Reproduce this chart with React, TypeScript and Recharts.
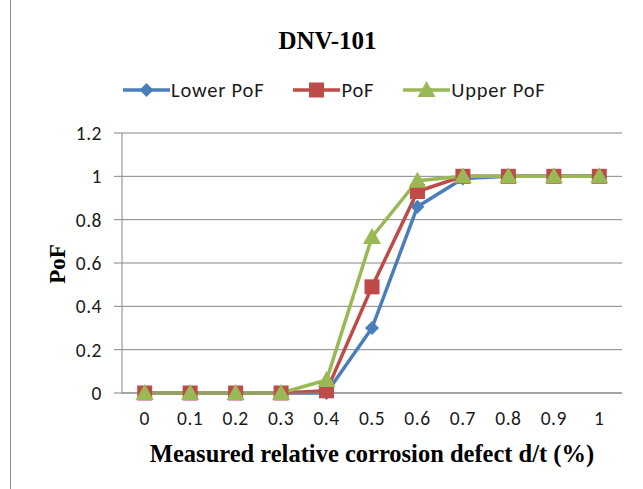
import { LineChart, Line, XAxis, YAxis, CartesianGrid } from 'recharts'

const CATEGORIES = ['0', '0.1', '0.2', '0.3', '0.4', '0.5', '0.6', '0.7', '0.8', '0.9', '1']
const LOWER_POF = [0, 0, 0, 0, 0, 0.3, 0.86, 0.99, 1, 1, 1]
const POF = [0, 0, 0, 0, 0.01, 0.49, 0.93, 1, 1, 1, 1]
const UPPER_POF = [0, 0, 0, 0, 0.06, 0.72, 0.98, 1, 1, 1, 1]
const Y_TICKS = [0, 0.2, 0.4, 0.6, 0.8, 1, 1.2]

const SERIES = [
  { key: 'lower', name: 'Lower PoF', color: '#4A7EBB', shape: 'diamond' },
  { key: 'pof', name: 'PoF', color: '#BE4B48', shape: 'square' },
  { key: 'upper', name: 'Upper PoF', color: '#98B954', shape: 'triangle' },
]

const data = CATEGORIES.map((c, i) => ({
  x: c,
  lower: LOWER_POF[i],
  pof: POF[i],
  upper: UPPER_POF[i],
}))

const SANS = 'Carlito, "Open Sans", "Liberation Sans", sans-serif'
const SERIF = '"Liberation Serif", "Times New Roman", serif'
const TICK_FONT = { fontFamily: SANS, fontSize: 19.5, fill: '#1a1a1a', letterSpacing: 0.5 }

function Marker({ shape, cx, cy, color }: { shape: string; cx: number; cy: number; color: string }) {
  if (cx == null || cy == null) return null
  if (shape === 'diamond') {
    const r = 7
    return <polygon points={`${cx},${cy - r} ${cx + r},${cy} ${cx},${cy + r} ${cx - r},${cy}`} fill={color} />
  }
  if (shape === 'square') {
    return <rect x={cx - 7.5} y={cy - 7.5} width={15} height={15} fill={color} />
  }
  return <polygon points={`${cx},${cy - 9} ${cx + 9},${cy + 7} ${cx - 9},${cy + 7}`} fill={color} />
}

function ChartLegend() {
  return (
    <div style={{ position: 'absolute', left: 123, top: 77, display: 'flex', gap: 29, fontFamily: SANS, fontSize: 20.5, letterSpacing: 0.8, color: '#1a1a1a' }}>
      {SERIES.map(s => (
        <div key={s.key} style={{ display: 'flex', alignItems: 'center' }}>
          <svg width={47} height={24} style={{ marginRight: 1 }}>
            <line x1={0} y1={12} x2={47} y2={12} stroke={s.color} strokeWidth={3.5} />
            <Marker shape={s.shape} cx={23.5} cy={12} color={s.color} />
          </svg>
          <span>{s.name}</span>
        </div>
      ))}
    </div>
  )
}

export default function App() {
  return (
    <div style={{ position: 'absolute', left: 0, top: 0, width: 643, height: 489, background: '#fff', overflow: 'hidden' }}>
      <div style={{ position: 'absolute', left: 10, top: -2, width: 640, height: 500, border: '1.5px solid #8a8a8a', boxSizing: 'border-box' }} />
      <div style={{ position: 'absolute', left: 0, width: 655, top: 27, textAlign: 'center', fontFamily: SERIF, fontWeight: 'bold', fontSize: 25 }}>
        DNV-101
      </div>
      <div style={{ position: 'absolute', left: 58, top: 264, transform: 'translate(-50%, -50%) rotate(-90deg)', fontFamily: SERIF, fontWeight: 'bold', fontSize: 23 }}>
        PoF
      </div>
      <div style={{ position: 'absolute', left: 122, width: 500, top: 440, textAlign: 'center', fontFamily: SERIF, fontWeight: 'bold', fontSize: 24.5, whiteSpace: 'nowrap' }}>
        Measured relative corrosion defect d/t (%)
      </div>
      <ChartLegend />
      <LineChart
        width={643}
        height={489}
        data={data}
        margin={{ top: 133, right: 21, bottom: 66, left: 0 }}
        style={{ position: 'absolute', left: 0, top: 0 }}
      >
        <CartesianGrid vertical={false} stroke="#868686" strokeWidth={1} />
        <XAxis
          dataKey="x"
          height={30}
          tick={TICK_FONT}
          tickLine={false}
          axisLine={{ stroke: '#868686' }}
          tickMargin={12}
          padding={{ left: 22.7, right: 22.7 }}
          interval={0}
        />
        <YAxis
          width={122}
          domain={[0, 1.2]}
          ticks={Y_TICKS}
          tick={TICK_FONT}
          tickLine={{ stroke: '#868686' }}
          tickSize={8}
          axisLine={{ stroke: '#868686' }}
          tickMargin={12}
        />
        {SERIES.map(s => (
          <Line
            key={s.key}
            dataKey={s.key}
            name={s.name}
            stroke={s.color}
            strokeWidth={3.5}
            isAnimationActive={false}
            dot={(p: any) => <Marker key={`${s.key}-${p.index}`} shape={s.shape} cx={p.cx} cy={p.cy} color={s.color} />}
            activeDot={false}
          />
        ))}
      </LineChart>
    </div>
  )
}
